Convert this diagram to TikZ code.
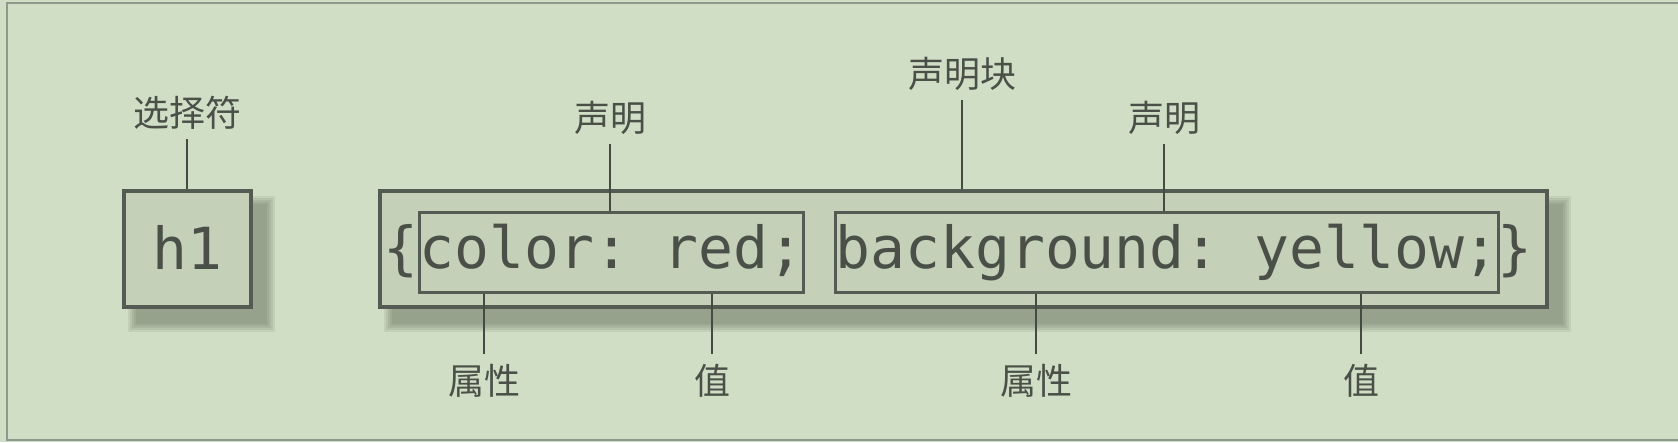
\documentclass[tikz,border=0pt]{standalone}
\usepackage{fontspec}
\usetikzlibrary{backgrounds}
\newfontfamily\cjk{Noto Sans CJK SC}
\newfontfamily\monof{DejaVu Sans Mono}
\definecolor{bgc}{HTML}{CFDEC4}
\definecolor{boxfill}{HTML}{C4D0B8}
\definecolor{edgec}{HTML}{545B52}
\definecolor{inkc}{HTML}{4A5048}
\definecolor{connc}{HTML}{454B43}
\definecolor{framec}{HTML}{8E998B}
\definecolor{shc}{HTML}{3E443B}
\newcommand\boxshadow[1]{%
  \foreach \e in {8,6,4,2,0}{%
    \fill[shc,fill opacity=0.09] ([shift={(14-\e,15-\e)}]#1.north west) rectangle ([shift={(14+\e,15+\e)}]#1.south east);
  }}
\begin{document}
\begin{tikzpicture}[x=1pt,y=-1pt,
  lab/.style={font=\cjk\fontsize{36}{36}\selectfont, text=inkc, inner sep=0pt, text height=30pt, text depth=3pt, outer sep=10pt, anchor=base},
  code/.style={font=\monof\fontsize{58}{58}\selectfont\frenchspacing, text=inkc},
  outerbox/.style={draw=edgec, line width=3.5pt, fill=boxfill, inner sep=0pt, anchor=north west, minimum height=116pt},
  innerbox/.style={code, draw=edgec, line width=3pt, inner xsep=0pt, inner ysep=0pt, text height=56pt, text depth=24pt, anchor=base west},
  connector/.style={draw=connc, line width=1.8pt},
  thinconnector/.style={draw=connc, line width=1.2pt}]
\path[use as bounding box] (0,0) rectangle (1678,442);
\begin{scope}[on background layer]
  \fill[bgc] (0,0) rectangle (1678,442);
  \draw[framec, line width=2pt] (7,3) rectangle (1700,440);
\end{scope}

% selector box
\node[outerbox, code, minimum width=127pt, text height=79pt, text depth=37pt] (h1box) at (122,189) {h1};
% declaration block
\node[outerbox, minimum width=1167pt] (block) at (378,189) {};
\node[code, anchor=base west, inner sep=0pt] (lb) at (383,268) {\{};
\node[innerbox] (d1) at (418,268) {color: red;};
\node[innerbox] (d2) at (834,268) {background: yellow;};
\node[code, anchor=base west, inner sep=0pt] (rb) at (1497,268) {\}};

\begin{scope}[on background layer]
  \boxshadow{h1box}
  \boxshadow{block}
\end{scope}

% labels
\node[lab] (sel) at (187,126) {选择符};
\node[lab] (decl1) at (610,131) {声明};
\node[lab] (blk) at (962,87) {声明块};
\node[lab] (decl2) at (1164,131) {声明};
\node[lab] (p1) at (484,394) {属性};
\node[lab] (v1) at (712,394) {值};
\node[lab] (p2) at (1036,394) {属性};
\node[lab] (v2) at (1361,394) {值};

% connectors
\draw[connector] (sel.south) -- (sel.south |- h1box.north);
\draw[connector] (decl1.south) -- (decl1.south |- d1.north);
\draw[thinconnector] (blk.south) -- (blk.south |- block.north);
\draw[connector] (decl2.south) -- (decl2.south |- d2.north);
\draw[connector] (p1.north) -- (p1.north |- d1.south);
\draw[connector] (v1.north) -- (v1.north |- d1.south);
\draw[connector] (p2.north) -- (p2.north |- d2.south);
\draw[connector] (v2.north) -- (v2.north |- d2.south);
\end{tikzpicture}
\end{document}
